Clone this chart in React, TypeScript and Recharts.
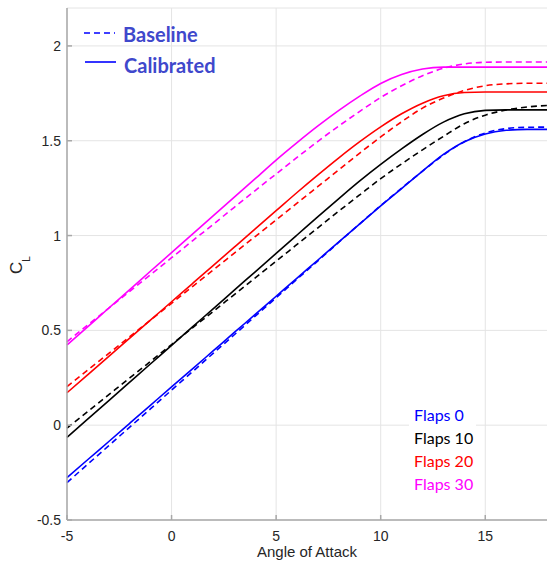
import { CartesianGrid, Line, LineChart, XAxis, YAxis } from "recharts";

// angle of attack, deg
const aoa = [-5, -4, -3, -2, -1, 0, 1, 2, 3, 4, 5, 6, 7, 8, 9, 10, 11, 12, 13, 14, 15, 16, 17, 18];

// CL
const flaps0Baseline = [-0.303, -0.205, -0.108, -0.01, 0.087, 0.185, 0.282, 0.38, 0.477, 0.575, 0.672, 0.77, 0.867, 0.965, 1.062, 1.158, 1.25, 1.34, 1.425, 1.495, 1.541, 1.564, 1.571, 1.572];
const flaps0Calibrated = [-0.277, -0.181, -0.086, 0.01, 0.106, 0.202, 0.297, 0.393, 0.489, 0.584, 0.68, 0.776, 0.871, 0.967, 1.062, 1.156, 1.248, 1.34, 1.428, 1.495, 1.536, 1.555, 1.56, 1.56];
const flaps10Baseline = [-0.015, 0.073, 0.161, 0.249, 0.337, 0.425, 0.513, 0.601, 0.689, 0.777, 0.865, 0.953, 1.041, 1.129, 1.215, 1.3, 1.378, 1.452, 1.523, 1.59, 1.635, 1.662, 1.678, 1.686];
const flaps10Calibrated = [-0.064, 0.033, 0.13, 0.227, 0.324, 0.421, 0.518, 0.615, 0.712, 0.809, 0.906, 1.003, 1.1, 1.195, 1.288, 1.375, 1.457, 1.533, 1.598, 1.642, 1.66, 1.663, 1.663, 1.663];
const flaps20Baseline = [0.203, 0.291, 0.379, 0.467, 0.555, 0.643, 0.731, 0.819, 0.907, 0.995, 1.083, 1.171, 1.259, 1.347, 1.435, 1.52, 1.6, 1.672, 1.725, 1.765, 1.79, 1.8, 1.803, 1.803];
const flaps20Calibrated = [0.171, 0.267, 0.363, 0.459, 0.555, 0.651, 0.747, 0.843, 0.939, 1.035, 1.131, 1.227, 1.32, 1.41, 1.495, 1.573, 1.642, 1.698, 1.737, 1.754, 1.757, 1.757, 1.757, 1.757];
const flaps30Baseline = [0.44, 0.529, 0.617, 0.706, 0.794, 0.883, 0.972, 1.06, 1.149, 1.237, 1.325, 1.412, 1.497, 1.578, 1.655, 1.728, 1.79, 1.843, 1.882, 1.905, 1.914, 1.915, 1.915, 1.915];
const flaps30Calibrated = [0.423, 0.52, 0.618, 0.715, 0.813, 0.91, 1.008, 1.105, 1.203, 1.3, 1.398, 1.49, 1.578, 1.66, 1.735, 1.802, 1.849, 1.878, 1.888, 1.888, 1.888, 1.888, 1.888, 1.888];

const xTicks = [-5, 0, 5, 10, 15];
const yTicks = [-0.5, 0, 0.5, 1, 1.5, 2];

const flapLabels = ["Flaps 0", "Flaps 10", "Flaps 20", "Flaps 30"];
const flapColors = ["#0000ff", "#000000", "#ff0000", "#ff00ff"];

const rows = aoa.map((a, i) => ({
  aoa: a,
  b0: flaps0Baseline[i],
  c0: flaps0Calibrated[i],
  b10: flaps10Baseline[i],
  c10: flaps10Calibrated[i],
  b20: flaps20Baseline[i],
  c20: flaps20Calibrated[i],
  b30: flaps30Baseline[i],
  c30: flaps30Calibrated[i],
}));

const seriesKeys = [
  ["b0", "c0"],
  ["b10", "c10"],
  ["b20", "c20"],
  ["b30", "c30"],
];

const axisColor = "#a8a8a8";
const textColor = "#262626";
const tickFont = { fontSize: 14, fill: textColor, fontFamily: "'Liberation Sans', Arial, sans-serif" };

export default function App() {
  return (
    <div style={{ position: "absolute", left: 0, top: 0, width: 547, height: 567, overflow: "hidden", background: "#fff" }}>
      <LineChart width={548} height={567} data={rows} margin={{ top: 8, right: 0, bottom: 0, left: 0 }}>
        <CartesianGrid stroke="#e4e4e4" strokeWidth={1} />
        <XAxis
          dataKey="aoa"
          type="number"
          domain={[-5, 18]}
          ticks={xTicks}
          height={47}
          tickSize={-5}
          tickMargin={16}
          stroke={axisColor}
          strokeWidth={1.5}
          tick={tickFont}
          label={() => (
            <text x={307} y={557} textAnchor="middle" fontSize={15} fill={textColor} fontFamily="'Liberation Sans', Arial, sans-serif">
              Angle of Attack
            </text>
          )}
        />
        <XAxis
          xAxisId="top"
          orientation="top"
          dataKey="aoa"
          type="number"
          domain={[-5, 18]}
          ticks={xTicks}
          height={0}
          tickSize={-5}
          tickFormatter={() => ""}
          stroke={axisColor}
          strokeWidth={1.5}
        />
        <YAxis
          type="number"
          domain={[-0.5, 2.2]}
          ticks={yTicks}
          width={67}
          tickSize={-5}
          tickMargin={11}
          stroke={axisColor}
          strokeWidth={1.5}
          tick={tickFont}
          label={() => (
            <text transform="rotate(-90)" x={-265} y={21.5} textAnchor="middle" fill={textColor} fontFamily="'Liberation Sans', Arial, sans-serif" fontSize={17}>
              C<tspan fontSize={10} dy={8}>L</tspan>
            </text>
          )}
        />
        <YAxis
          yAxisId="right"
          orientation="right"
          type="number"
          domain={[-0.5, 2.2]}
          ticks={yTicks}
          width={0}
          tickSize={-5}
          tickFormatter={() => ""}
          stroke={axisColor}
          strokeWidth={1.5}
        />
        {seriesKeys.map(([b, c], i) => [
          <Line
            key={b}
            type="monotone"
            dataKey={b}
            stroke={flapColors[i]}
            strokeWidth={1.6}
            strokeDasharray="6 4"
            dot={false}
            isAnimationActive={false}
          />,
          <Line
            key={c}
            type="monotone"
            dataKey={c}
            stroke={flapColors[i]}
            strokeWidth={1.6}
            dot={false}
            isAnimationActive={false}
          />,
        ])}
      </LineChart>
      <svg width={547} height={567} style={{ position: "absolute", left: 0, top: 0, pointerEvents: "none" }}>
        <line x1={84} y1={33} x2={115} y2={33} stroke="#0000ff" strokeWidth={1.6} strokeDasharray="6 4" />
        <line x1={85} y1={62} x2={116} y2={62} stroke="#0000ff" strokeWidth={1.6} />
        <text x={123} y={42} fontFamily="Lato, sans-serif" fontWeight={700} fontSize={20} fill="#3f48cc">Baseline</text>
        <text x={124} y={73} fontFamily="Lato, sans-serif" fontWeight={700} fontSize={20} fill="#3f48cc">Calibrated</text>
        <rect x={409} y={403} width={67} height={92} fill="#ffffff" />
        {flapLabels.map((t, i) => (
          <text key={t} x={414} y={421 + i * 23} fontFamily="Lato, sans-serif" fontSize={16} fill={flapColors[i]}>
            {t}
          </text>
        ))}
      </svg>
    </div>
  );
}
